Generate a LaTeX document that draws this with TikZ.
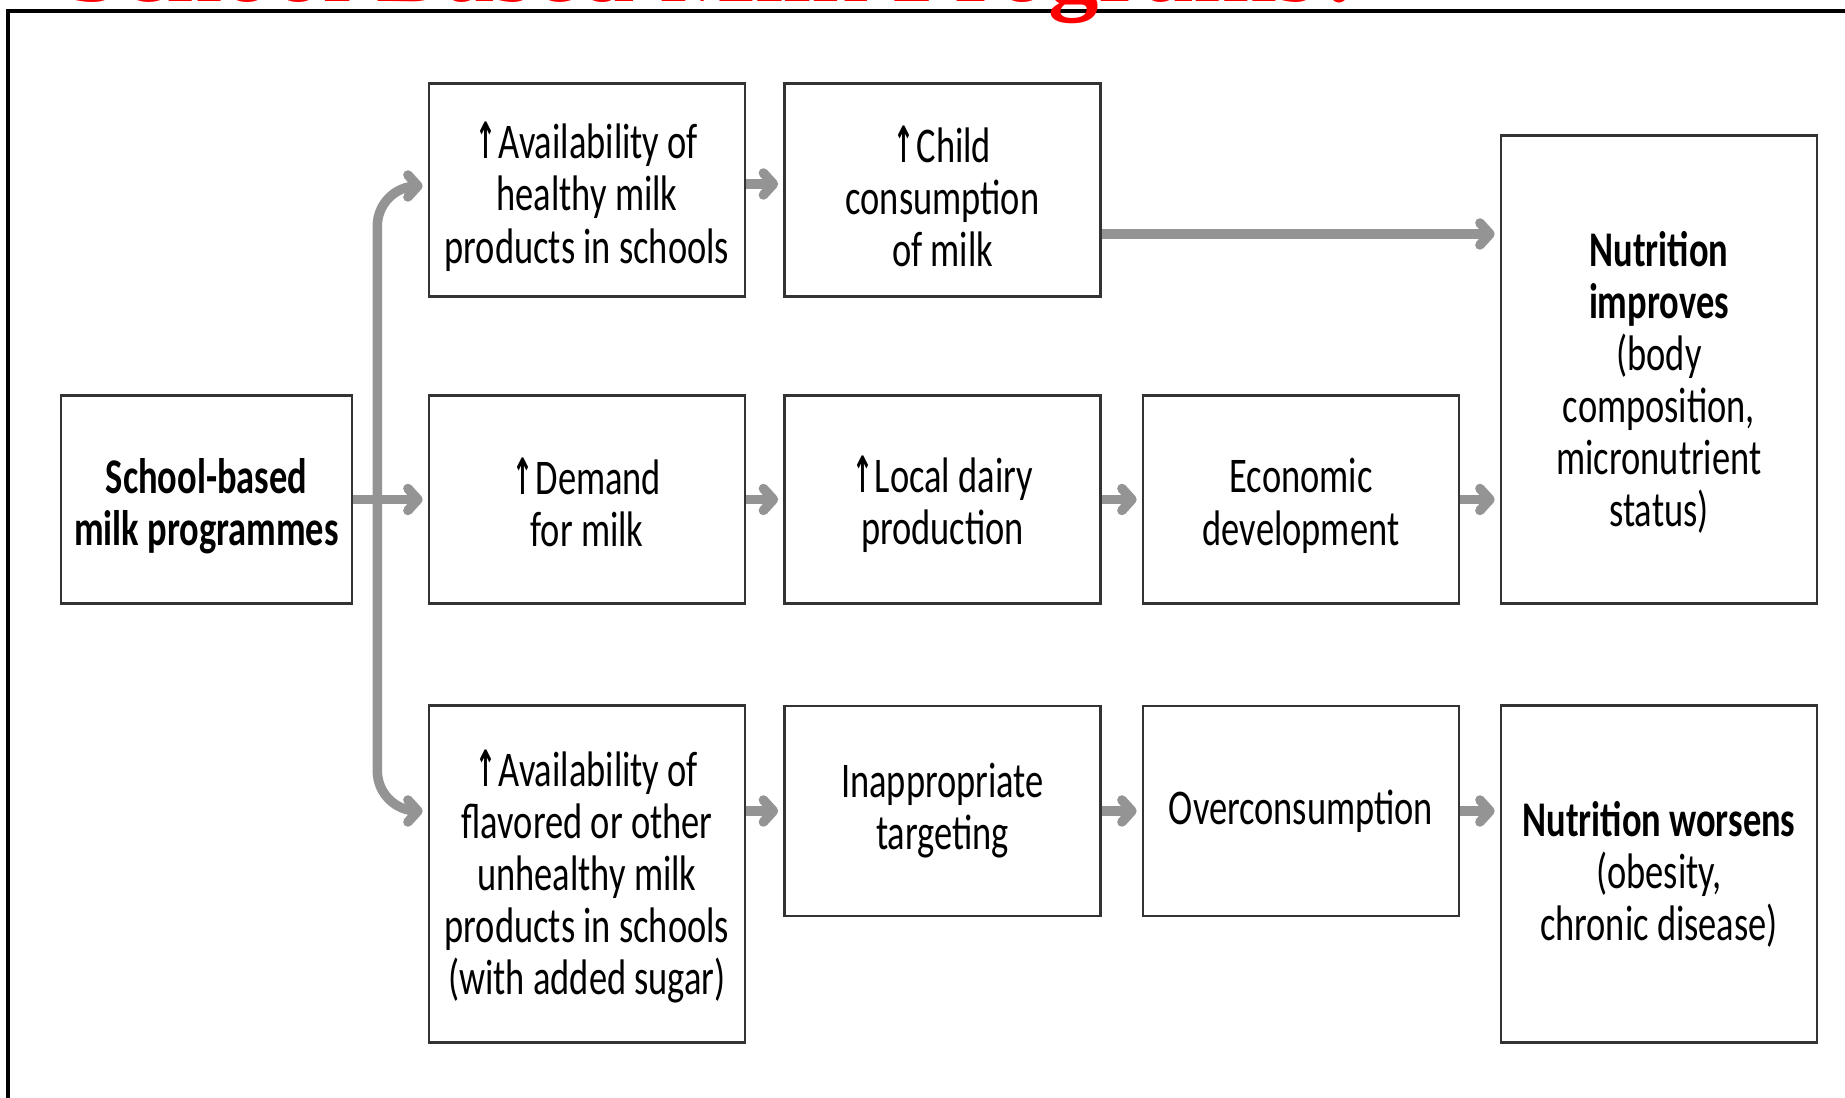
\documentclass[tikz,border=0pt]{standalone}
\usepackage{fontspec}
\setmainfont{Carlito}[FakeStretch=0.73]
\newfontfamily\headfont{Liberation Serif}
\newfontfamily\arrowfont{DejaVu Sans}[FakeStretch=0.5]
\usetikzlibrary{arrows.meta,calc,positioning}
\definecolor{arrowgray}{RGB}{148,148,148}
\definecolor{boxline}{RGB}{51,51,51}
\newcommand{\boxsize}{\fontsize{14.2pt}{14.8pt}\selectfont}
\newcommand{\upmark}{{\arrowfont\bfseries ↑}\kern0.5pt}
\newcommand{\pad}[1]{\rule{0pt}{#1}}
\tikzset{
  box/.style={draw=boxline, line width=0.025cm, align=center, inner sep=0pt,
    minimum width=3.16cm, font=\boxsize},
  flow/.style={draw=arrowgray, line width=0.095cm, shorten >=0.05cm,
    -{Straight Barb[length=0.1cm,width=0.22cm,round]}},
}

\begin{document}
\begin{tikzpicture}[x=0.01cm,y=-0.01cm]
\clip (0,0) rectangle (1845,1098);
\fill[white] (0,0) rectangle (1845,1098);
% frame and heading
\draw[line width=0.04cm] (8,1110) -- (8,11) -- (1860,11);
\node[anchor=base west, text=red, inner sep=0pt,
  font=\headfont\bfseries\fontsize{28.7pt}{30pt}\selectfont] (title) at (65,2) {School Based Milk Programs?};

% boxes
\node[box, font=\boxsize\bfseries, minimum width=2.91cm, minimum height=2.08cm] (prog) at (206.5,499.5) {\pad{0.49cm}School-based\\milk programmes};

\node[box, minimum height=2.13cm] (healthy) at (587,190) {\pad{0.5cm}\upmark Availability of\\healthy milk\\products in schools};
\node[box, minimum height=2.08cm] (demand) at (587,499.5) {\pad{0.42cm}\upmark Demand\\for milk};
\node[box, minimum height=3.37cm] (flavored) at (587,874) {\pad{0.42cm}\upmark Availability of\\flavored or other\\unhealthy milk\\products in schools\\(with added sugar)};

\node[box, minimum height=2.13cm] (child) at (942.5,190) {\pad{0.5cm}\upmark Child\\consumption\\of milk};
\node[box, minimum height=2.08cm] (dairy) at (942.5,499.5) {\pad{0.46cm}\upmark Local dairy\\production};
\node[box, minimum height=2.1cm] (target) at (942.5,811) {Inappropriate\\targeting};

\node[box, minimum height=2.08cm] (econ) at (1301,499.5) {\pad{0.47cm}Economic\\development};
\node[box, minimum height=2.1cm] (over) at (1301,811) {Overconsumption};

\node[box, minimum height=4.68cm] (improve) at (1659,369.5) {\pad{0.61cm}\textbf{Nutrition}\\\textbf{improves}\\(body\\composition,\\micronutrient\\status)};
\node[box, minimum height=3.37cm] (worse) at (1659,874) {\textbf{Nutrition worsens}\\(obesity,\\chronic disease)};

% arrows
\coordinate (split) at ($(prog.east)+(24,0)$);
\draw[flow] (prog) -- (demand);
\draw[flow, rounded corners=0.4cm] (split) |- ([yshift=0.04cm]healthy.west);
\draw[flow, rounded corners=0.4cm] (split) |- (flavored.west |- target.west);

\draw[flow] ([yshift=0.06cm]healthy.east) -- ([yshift=0.06cm]child.west);
\draw[flow] (demand) -- (dairy);
\draw[flow] (dairy) -- (econ);
\draw[flow] (econ.east) -- (econ.east -| improve.west);
\draw[flow] (flavored.east |- target.west) -- (target.west);
\draw[flow] (target) -- (over);
\draw[flow] (over.east) -- (over.east -| worse.west);

\coordinate (c) at ($(child.east)+(0,44)$);
\draw[flow] (c) -- (c -| improve.west);
\end{tikzpicture}
\end{document}
